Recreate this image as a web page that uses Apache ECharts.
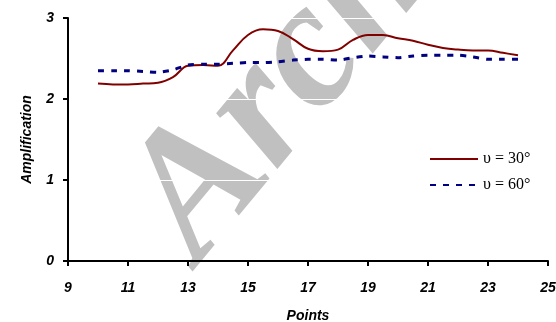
<!DOCTYPE html>
<html>
<head>
<meta charset="utf-8">
<script src="https://cdn.jsdelivr.net/npm/echarts@6/dist/echarts.min.js"></script>
<style>html,body{margin:0;padding:0;background:#fff;}#c{width:556px;height:322px;}</style>
</head>
<body>
<div id="c"></div>
<script>
var xPoints = [10,10.5,11,11.5,12,12.5,13,13.5,14,14.5,15,15.5,16,16.5,17,17.5,18,18.5,19,19.5,20,20.5,21,21.5,22,22.5,23,23.5,24];
var amp30 = [2.19,2.18,2.18,2.19,2.20,2.27,2.41,2.42,2.41,2.60,2.79,2.86,2.84,2.74,2.62,2.59,2.61,2.73,2.79,2.79,2.75,2.72,2.67,2.63,2.61,2.60,2.60,2.57,2.54];
var amp60 = [2.35,2.35,2.35,2.34,2.33,2.36,2.42,2.43,2.43,2.44,2.45,2.45,2.46,2.48,2.49,2.49,2.48,2.51,2.53,2.52,2.51,2.53,2.54,2.54,2.54,2.52,2.49,2.49,2.49];
var seriesNames = ['\u03c5 = 30\u00b0', '\u03c5 = 60\u00b0'];
var watermarkText = 'Archive';

function pairs(xs, ys){ return xs.map(function(x,i){ return [x, ys[i]]; }); }

var chart = echarts.init(document.getElementById('c'));
var axisFont = {fontFamily:'Liberation Sans', fontWeight:'bold', fontStyle:'italic', fontSize:14, color:'#000'};
chart.setOption({
  animation:false,
  grid:{left:68, right:8, top:18, bottom:61, containLabel:false, outerBoundsMode:'none'},
  graphic:[{
    type:'text', x:232, y:292, rotation:0.88, z:-10, silent:true,
    style:{text:watermarkText, font:'italic bold 180px "Liberation Serif"', fill:'#c0c0c0', verticalAlign:'bottom', align:'left'}
  }],
  legend:{
    orient:'vertical', left:424, top:146, itemWidth:48, itemHeight:14, itemGap:10,
    data:seriesNames,
    itemStyle:{opacity:0},
    textStyle:{fontFamily:'Liberation Serif', fontSize:16, color:'#000', padding:[0,0,0,0]}
  },
  xAxis:{
    type:'value', min:9, max:25, interval:2,
    name:'Points', nameLocation:'middle', nameGap:48,
    nameTextStyle:axisFont,
    axisLine:{lineStyle:{color:'#000', width:2}},
    axisTick:{length:5, lineStyle:{color:'#000', width:2}},
    axisLabel:Object.assign({margin:20}, axisFont),
    splitLine:{show:false}
  },
  yAxis:{
    type:'value', min:0, max:3, interval:1,
    name:'Amplification', nameLocation:'middle', nameGap:34,
    nameTextStyle:axisFont,
    axisLine:{show:true, lineStyle:{color:'#000', width:2}},
    axisTick:{show:true, length:5, lineStyle:{color:'#000', width:2}},
    axisLabel:Object.assign({margin:14}, axisFont),
    splitLine:{show:true, lineStyle:{color:'#fff', width:1}}
  },
  series:[
    {name:seriesNames[0], type:'line', data:pairs(xPoints, amp30), smooth:0.4, symbol:'none',
     lineStyle:{color:'#800000', width:2}, itemStyle:{color:'#800000'}},
    {name:seriesNames[1], type:'line', data:pairs(xPoints, amp60), smooth:0.2, symbol:'none',
     lineStyle:{color:'#000080', width:3, type:[6,7]}, itemStyle:{color:'#000080'}}
  ]
});
</script>
</body>
</html>
